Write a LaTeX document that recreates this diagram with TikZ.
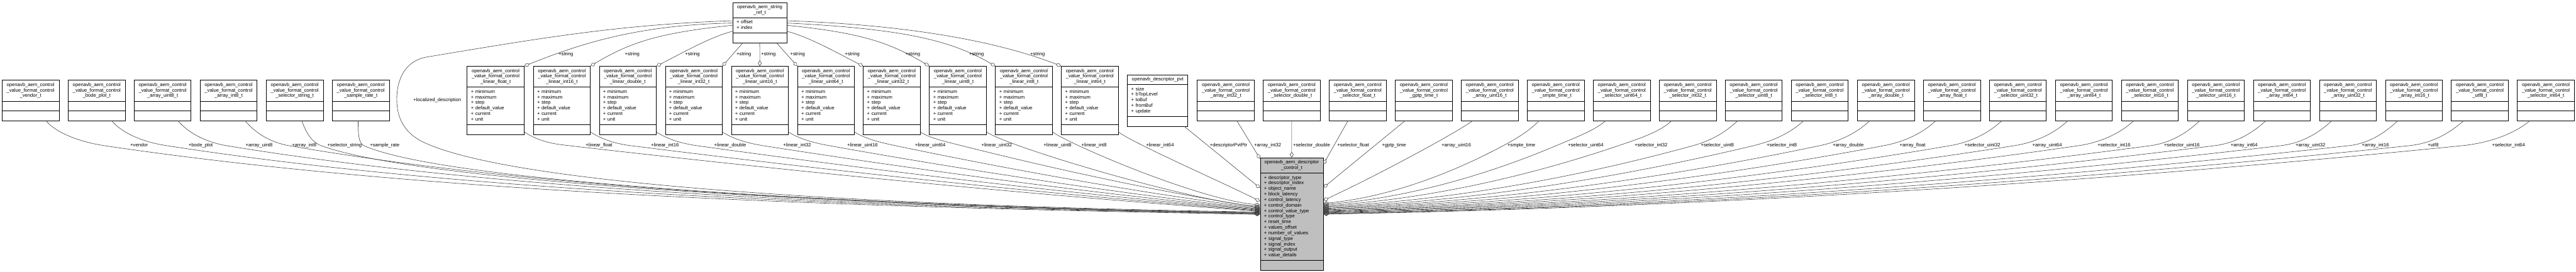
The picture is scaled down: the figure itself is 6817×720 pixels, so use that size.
\documentclass[tikz,border=0pt]{standalone}
\usepackage{fontspec}
\setmainfont{Liberation Sans}
\usetikzlibrary{shapes.multipart,arrows.meta,calc}

% class box contents
\newcommand{\vfctitle}[1]{\strut openavb\_aem\_control\\\_value\_format\_control\\\_#1\_t\strut}
\newcommand{\nofields}{\nodepart{two}\strut\nodepart{three}\strut}
\newcommand{\linfields}{\nodepart{two}\raggedright\strut + minimum\\+ maximum\\+ step\\+ default\_value\\+ current\\+ unit\strut\par\nodepart{three}\strut}

\begin{document}
\hyphenpenalty=10000
\begin{tikzpicture}[x=1pt, y=-1pt, font=\fontsize{12.8}{14.7}\selectfont,
  cls/.style={rectangle split, rectangle split parts=3, draw=black, line width=1.2pt,
    inner xsep=10pt, inner ysep=5pt, text width=#1, align=center, anchor=north west},
  cls/.default=130.7pt,
  agg/.style={draw=black!75, line width=1pt, -{Diamond[open, length=15pt, width=10pt]}},
  lbl/.style={anchor=base west, inner sep=0pt}]
\useasboundingbox (0,0) rectangle (6817,720);

% the control descriptor
\node[cls=146.6pt, fill=black!25] (ctrl) at (3334.4,417.4) {\strut openavb\_aem\_descriptor\\\_control\_t\strut
  \nodepart{two}\raggedright\strut + descriptor\_type\\+ descriptor\_index\\+ object\_name\\+ block\_latency\\+ control\_latency\\+ control\_domain\\+ control\_value\_type\\+ control\_type\\+ reset\_time\\+ values\_offset\\+ number\_of\_values\\+ signal\_type\\+ signal\_index\\+ signal\_output\\+ value\_details\strut\par
  \nodepart{three}\strut};

% string reference and private part
\node[cls=123pt] (strref) at (1938.4,6) {\strut openavb\_aem\_string\\\_ref\_t\strut
  \nodepart{two}\raggedright\strut + offset\\+ index\strut\par\nodepart{three}\strut};
\node[cls=140pt] (pvt) at (2983,197.4) {\strut openavb\_descriptor\_pvt\strut
  \nodepart{two}\raggedright\strut + size\\+ bTopLevel\\+ toBuf\\+ fromBuf\\+ update\strut\par\nodepart{three}\strut};

% value formats, left
\node[cls] (vendor) at (5,212) {\vfctitle{vendor}\nofields};
\node[cls] (bode) at (180,212) {\vfctitle{bode\_plot}\nofields};
\node[cls] (auint8) at (354.4,212) {\vfctitle{array\_uint8}\nofields};
\node[cls] (aint8) at (529,212) {\vfctitle{array\_int8}\nofields};
\node[cls] (selstring) at (704,212) {\vfctitle{selector\_string}\nofields};
\node[cls] (samplerate) at (878.8,212) {\vfctitle{sample\_rate}\nofields};

% linear value formats
\node[cls] (linfloat) at (1235.6,175) {\vfctitle{linear\_float}\linfields};
\node[cls] (linint16) at (1410.8,175) {\vfctitle{linear\_int16}\linfields};
\node[cls] (lindouble) at (1585.3,175) {\vfctitle{linear\_double}\linfields};
\node[cls] (linint32) at (1760,175) {\vfctitle{linear\_int32}\linfields};
\node[cls] (linuint16) at (1934.8,175) {\vfctitle{linear\_uint16}\linfields};
\node[cls] (linuint64) at (2109.7,175) {\vfctitle{linear\_uint64}\linfields};
\node[cls] (linuint32) at (2284,175) {\vfctitle{linear\_uint32}\linfields};
\node[cls] (linuint8) at (2458.8,175) {\vfctitle{linear\_uint8}\linfields};
\node[cls] (linint8) at (2633.7,175) {\vfctitle{linear\_int8}\linfields};
\node[cls] (linint64) at (2808,175) {\vfctitle{linear\_int64}\linfields};

% value formats, right
\node[cls] (aint32) at (3167.9,212) {\vfctitle{array\_int32}\nofields};
\node[cls] (seldouble) at (3342.3,212) {\vfctitle{selector\_double}\nofields};
\node[cls] (selfloat) at (3517,212) {\vfctitle{selector\_float}\nofields};
\node[cls] (gptp) at (3691.9,212) {\vfctitle{gptp\_time}\nofields};
\node[cls] (auint16) at (3866.4,212) {\vfctitle{array\_uint16}\nofields};
\node[cls] (smpte) at (4041,212) {\vfctitle{smpte\_time}\nofields};
\node[cls] (seluint64) at (4215.9,212) {\vfctitle{selector\_uint64}\nofields};
\node[cls] (selint32) at (4390.4,212) {\vfctitle{selector\_int32}\nofields};
\node[cls] (seluint8) at (4565,212) {\vfctitle{selector\_uint8}\nofields};
\node[cls] (selint8) at (4739.5,212) {\vfctitle{selector\_int8}\nofields};
\node[cls] (adouble) at (4914.7,212) {\vfctitle{array\_double}\nofields};
\node[cls] (afloat) at (5089.4,212) {\vfctitle{array\_float}\nofields};
\node[cls] (seluint32) at (5264,212) {\vfctitle{selector\_uint32}\nofields};
\node[cls] (auint64) at (5438.8,212) {\vfctitle{array\_uint64}\nofields};
\node[cls] (selint16) at (5613.2,212) {\vfctitle{selector\_int16}\nofields};
\node[cls] (seluint16) at (5788,212) {\vfctitle{selector\_uint16}\nofields};
\node[cls] (aint64) at (5962.6,212) {\vfctitle{array\_int64}\nofields};
\node[cls] (auint32) at (6137.3,212) {\vfctitle{array\_uint32}\nofields};
\node[cls] (aint16) at (6312,212) {\vfctitle{array\_int16}\nofields};
\node[cls] (utf8) at (6486.5,212) {\vfctitle{utf8}\nofields};
\node[cls] (selint64) at (6661.2,212) {\vfctitle{selector\_int64}\nofields};

% string members of the linear formats
\draw[agg] ($(strref.north west)+(0,55)$) .. controls +(-250,5) and +(150,-60) .. (linfloat.north east);
\draw[agg] ($(strref.north west)+(0,61)$) .. controls +(-200,20) and +(100,-60) .. (linint16.north east);
\draw[agg] ($(strref.north west)+(0,77)$) .. controls +(-60,15) and +(60,-30) .. (lindouble.north east);
\draw[agg] ($(strref.south west)+(26.6,0)$) -- (linint32.north east);
\draw[agg] (strref.south) -- (linuint16.north);
\draw[agg] ($(strref.south east)+(-27,0)$) -- (linuint64.north west);
\draw[agg] ($(strref.north east)+(0,77)$) .. controls +(60,15) and +(-60,-30) .. (linuint32.north west);
\draw[agg] ($(strref.north east)+(0,61)$) .. controls +(200,20) and +(-100,-60) .. (linuint8.north west);
\draw[agg] ($(strref.north east)+(0,55)$) .. controls +(300,15) and +(-120,-70) .. (linint8.north west);
\draw[agg] ($(strref.north east)+(0,49)$) .. controls +(300,10) and +(-180,-70) .. (linint64.north west);
\node[lbl] (lsfloat) at (1478,147) {+string};
\node[lbl] (lsint16) at (1653.6,147) {+string};
\node[lbl] (lsdouble) at (1813,147) {+string};
\node[lbl] (lsint32) at (1949,147) {+string};
\node[lbl] (lsuint16) at (2013.7,147) {+string};
\node[lbl] (lsuint64) at (2091,147) {+string};
\node[lbl] (lsuint32) at (2236,147) {+string};
\node[lbl] (lsuint8) at (2396,147) {+string};
\node[lbl] (lsint8) at (2564.6,147) {+string};
\node[lbl] (lsint64) at (2726,147) {+string};

% members arriving from the left
\draw[agg] ($(vendor.south west)+(117,0)$) .. controls +(25,30) and +(-70,-10.4) .. (277,386) .. controls +(917,136.5) and +(-917,-16.4) .. ($(ctrl.north west)+(0,150.6)$);
\draw[agg] ($(bode.south west)+(116,0)$) .. controls +(25,30) and +(-63,-9.9) .. (436,385) .. controls +(869,136.5) and +(-869,-16.4) .. ($(ctrl.north west)+(0,149.6)$);
\draw[agg] ($(auint8.south west)+(117,0)$) .. controls +(25,30) and +(-58,-9.6) .. (600,386) .. controls +(820,135) and +(-820,-16.2) .. ($(ctrl.north west)+(0,148.6)$);
\draw[agg] ($(aint8.south west)+(120,0)$) .. controls +(25,30) and +(-52,-9) .. (765,386) .. controls +(771,134.3) and +(-771,-16.1) .. ($(ctrl.north west)+(0,147.6)$);
\draw[agg] ($(selstring.south west)+(95,0)$) .. controls +(10,30) and +(-25,-9.2) .. (850,386) .. controls +(300,110) and +(-800,-10) .. ($(ctrl.north west)+(0,146.6)$);
\draw[agg] ($(samplerate.south west)+(69,0)$) .. controls +(0,30) and +(-15,-6.6) .. (963,386) .. controls +(250,110) and +(-800,-10) .. ($(ctrl.north west)+(0,145.6)$);
\draw[agg] ($(strref.north west)+(0,49)$) .. controls +(-300,10) and +(300,-50) .. (1130,151) .. controls +(-60,10) and +(0,-50) .. (1050,263) .. controls +(0,50) and +(-60,-25) .. (1130,381) .. controls +(300,130) and +(-700,-10) .. ($(ctrl.north west)+(0,144.1)$);
\draw[agg] ($(linfloat.south east)+(0,-7)$) .. controls +(25,16) and +(-47,-5.4) .. (1490,384) .. controls +(608.5,70.4) and +(-608.5,-44) .. ($(ctrl.north west)+(0,142.6)$);
\draw[agg] ($(linint16.south east)+(0,-7)$) .. controls +(25,16) and +(-49,-6.1) .. (1670,386) .. controls +(549,69) and +(-549,-43.1) .. ($(ctrl.north west)+(0,141.1)$);
\draw[agg] ($(lindouble.south east)+(0,-7)$) .. controls +(25,16) and +(-49,-6.8) .. (1845,386) .. controls +(491.4,68.4) and +(-491.4,-42.75) .. ($(ctrl.north west)+(0,139.6)$);
\draw[agg] ($(linint32.south east)+(0,-7)$) .. controls +(25,16) and +(-49,-7.7) .. (2020,386) .. controls +(433.6,67.8) and +(-433.6,-42.4) .. ($(ctrl.north west)+(0,138.1)$);
\draw[agg] ($(linuint16.south east)+(0,-7)$) .. controls +(25,16) and +(-49,-8.8) .. (2195,386) .. controls +(375.9,67.2) and +(-375.9,-42) .. ($(ctrl.north west)+(0,136.6)$);
\draw[agg] ($(linuint64.south east)+(0,-7)$) .. controls +(25,16) and +(-49,-10.2) .. (2370,386) .. controls +(318,66.4) and +(-318,-41.5) .. ($(ctrl.north west)+(0,134.6)$);
\draw[agg] ($(linuint32.south east)+(0,-7)$) .. controls +(25,16) and +(-50,-12.6) .. (2545,386) .. controls +(260.4,65.6) and +(-260.4,-41) .. ($(ctrl.north west)+(0,132.6)$);
\draw[agg] ($(linuint8.south east)+(0,-7)$) .. controls +(60,40) and +(-186,-14.5) .. ($(ctrl.north west)+(0,129.6)$);
\draw[agg] ($(linint8.south east)+(0,-7)$) .. controls +(50,35) and +(-165,-15) .. ($(ctrl.north west)+(0,125.6)$);
\draw[agg] ($(linint64.south east)+(0,-7)$) .. controls +(40,30) and +(-100,-50) .. ($(ctrl.north west)+(0,115.6)$);
\draw[agg] ($(pvt.south east)+(-10,0)$) -- ($(ctrl.north west)+(0,80.6)$);
\draw[agg] ($(aint32.south west)+(105.4,0)$) -- ($(ctrl.north west)+(0,3)$);
\draw[agg] (seldouble.south) -- (ctrl.north);

% members arriving from the right
\draw[agg] ($(selfloat.south west)+(50,0)$) -- ($(ctrl.north east)+(0,17.6)$);
\draw[agg] ($(gptp.south west)+(26,0)$) -- ($(ctrl.north east)+(0,79.6)$);
\draw[agg] ($(auint16.south west)+(30,0)$) .. controls +(-40,30) and +(150,-70) .. ($(ctrl.north east)+(0,113.6)$);
\draw[agg] ($(smpte.south west)+(31.7,0)$) .. controls +(-25,25) and +(42.6,-22.8) .. (3978,386) .. controls +(-157.4,84.15) and +(157.4,-15.3) .. ($(ctrl.north east)+(0,121.6)$);
\draw[agg] ($(seluint64.south west)+(33,0)$) .. controls +(-30,25) and +(56.7,-24) .. (4123,384) .. controls +(-205.3,86.9) and +(205.3,-15.8) .. ($(ctrl.north east)+(0,124.6)$);
\draw[agg] ($(selint32.south west)+(33,0)$) .. controls +(-30,28) and +(63,-21.4) .. (4283,386) .. controls +(-258,87.45) and +(258,-15.9) .. ($(ctrl.north east)+(0,127.6)$);
\draw[agg] ($(seluint8.south west)+(33,0)$) .. controls +(-30,28) and +(53,-14.6) .. (4480,386) .. controls +(-323,88.8) and +(323,-16.15) .. ($(ctrl.north east)+(0,130.1)$);
\draw[agg] ($(selint8.south west)+(33,0)$) .. controls +(-30,28) and +(60,-14.4) .. (4640,386) .. controls +(-375.9,90.2) and +(375.9,-16.4) .. ($(ctrl.north east)+(0,132.6)$);
\draw[agg] ($(adouble.south west)+(33,0)$) .. controls +(-30,28) and +(60,-12.6) .. (4815,386) .. controls +(-433.6,91.3) and +(433.6,-16.6) .. ($(ctrl.north east)+(0,134.6)$);
\draw[agg] ($(afloat.south west)+(33,0)$) .. controls +(-30,28) and +(62,-11.7) .. (4985,386) .. controls +(-489.7,92.4) and +(489.7,-16.8) .. ($(ctrl.north east)+(0,136.6)$);
\draw[agg] ($(seluint32.south west)+(33,0)$) .. controls +(-30,28) and +(62,-10.6) .. (5160,386) .. controls +(-547.5,93.5) and +(547.5,-17) .. ($(ctrl.north east)+(0,138.6)$);
\draw[agg] ($(auint64.south west)+(33,0)$) .. controls +(-30,28) and +(64,-10) .. (5330,386) .. controls +(-603.6,94.6) and +(603.6,-17.2) .. ($(ctrl.north east)+(0,140.6)$);
\draw[agg] ($(selint16.south west)+(33,0)$) .. controls +(-30,28) and +(66,-9.5) .. (5500,386) .. controls +(-659.7,95.4) and +(659.7,-17.35) .. ($(ctrl.north east)+(0,142.1)$);
\draw[agg] ($(seluint16.south west)+(33,0)$) .. controls +(-30,28) and +(59,-7.9) .. (5690,386) .. controls +(-722.4,96.25) and +(722.4,-17.5) .. ($(ctrl.north east)+(0,143.6)$);
\draw[agg] ($(aint64.south west)+(33,0)$) .. controls +(-30,28) and +(61,-7.6) .. (5860,386) .. controls +(-778.5,97.1) and +(778.5,-17.65) .. ($(ctrl.north east)+(0,145.1)$);
\draw[agg] ($(auint32.south west)+(33,0)$) .. controls +(-30,28) and +(61,-7.1) .. (6035,386) .. controls +(-836.2,97.9) and +(836.2,-17.8) .. ($(ctrl.north east)+(0,146.6)$);
\draw[agg] ($(aint16.south west)+(33,0)$) .. controls +(-30,28) and +(58.5,-6.4) .. (6215,386) .. controls +(-895.6,98.7) and +(895.6,-17.95) .. ($(ctrl.north east)+(0,148.1)$);
\draw[agg] ($(utf8.south west)+(33,0)$) .. controls +(-35,30) and +(65,-6.8) .. (6375,386) .. controls +(-948.4,99.3) and +(948.4,-18.05) .. ($(ctrl.north east)+(0,149.1)$);
\draw[agg] ($(selint64.south west)+(33,0)$) .. controls +(-35,30) and +(80.6,-8.1) .. (6515,386) .. controls +(-994.6,99.8) and +(994.6,-18.15) .. ($(ctrl.north east)+(0,150.1)$);

% member labels
\node[lbl] (llocal) at (1093.6,268.5) {+localized\_description};
\node[lbl] (lvendor) at (344.6,389) {+vendor};
\node[lbl] (lbode) at (499,389) {+bode\_plot};
\node[lbl] (lauint8) at (649.8,389) {+array\_uint8};
\node[lbl] (laint8) at (772.7,389) {+array\_int8};
\node[lbl] (lselstring) at (866.4,389) {+selector\_string};
\node[lbl] (lsamplerate) at (979,389) {+sample\_rate};
\node[lbl] (llinfloat) at (1550,389) {+linear\_float};
\node[lbl] (llinint16) at (1722.5,389) {+linear\_int16};
\node[lbl] (llindouble) at (1890,389) {+linear\_double};
\node[lbl] (llinint32) at (2072.6,389) {+linear\_int32};
\node[lbl] (llinuint16) at (2241.8,389) {+linear\_uint16};
\node[lbl] (llinuint64) at (2421,389) {+linear\_uint64};
\node[lbl] (llinuint32) at (2597,389) {+linear\_uint32};
\node[lbl] (llinuint8) at (2761.6,389) {+linear\_uint8};
\node[lbl] (llinint8) at (2861.8,389) {+linear\_int8};
\node[lbl] (llinint64) at (3032.6,389) {+linear\_int64};
\node[lbl] (lpvt) at (3201.7,389) {+descriptorPvtPtr};
\node[lbl] (laint32) at (3318.7,389) {+array\_int32};
\node[lbl] (lseldouble) at (3421.8,389) {+selector\_double};
\node[lbl] (lselfloat) at (3538.8,389) {+selector\_float};
\node[lbl] (lgptp) at (3657,389) {+gptp\_time};
\node[lbl] (lauint16) at (3814.4,389) {+array\_uint16};
\node[lbl] (lsmpte) at (3989,389) {+smpte\_time};
\node[lbl] (lseluint64) at (4149,389) {+selector\_uint64};
\node[lbl] (lselint32) at (4325.3,389) {+selector\_int32};
\node[lbl] (lseluint8) at (4501,389) {+selector\_uint8};
\node[lbl] (lselint8) at (4675,389) {+selector\_int8};
\node[lbl] (ladouble) at (4849.7,389) {+array\_double};
\node[lbl] (lafloat) at (5027,389) {+array\_float};
\node[lbl] (lseluint32) at (5198.9,389) {+selector\_uint32};
\node[lbl] (lauint64) at (5378,389) {+array\_uint64};
\node[lbl] (lselint16) at (5550.7,389) {+selector\_int16};
\node[lbl] (lseluint16) at (5726.5,389) {+selector\_uint16};
\node[lbl] (laint64) at (5902.7,389) {+array\_int64};
\node[lbl] (lauint32) at (6074.7,389) {+array\_uint32};
\node[lbl] (laint16) at (6250.4,389) {+array\_int16};
\node[lbl] (lutf8) at (6424.3,389) {+utf8};
\node[lbl] (lselint64) at (6594.7,389) {+selector\_int64};
\end{tikzpicture}
\end{document}
